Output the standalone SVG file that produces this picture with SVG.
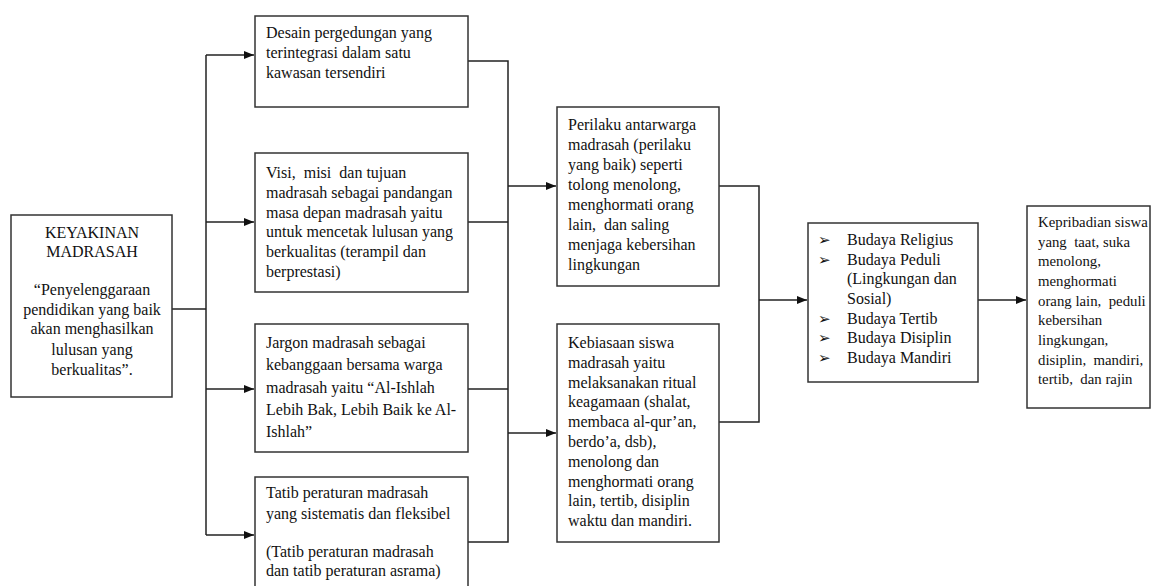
<svg xmlns="http://www.w3.org/2000/svg" width="1157" height="586" viewBox="0 0 1157 586">
<style>
.box{fill:#fff;stroke:#333;stroke-width:1.5}
.t{font-family:"Liberation Serif","Times New Roman",serif;font-size:16px;fill:#111;white-space:pre}
.s{font-size:14.8px}
.c{text-anchor:middle}
.bul{font-family:"DejaVu Sans",sans-serif;font-size:15px;fill:#111}
.ln{fill:none;stroke:#222;stroke-width:1.5}
</style>
<defs>
<marker id="ah" viewBox="0 0 10 10" refX="10" refY="5" markerWidth="10" markerHeight="10" markerUnits="userSpaceOnUse" orient="auto">
<path d="M0,1 L10,5 L0,9 Z" fill="#111"/>
</marker>
</defs>
<rect width="1157" height="586" fill="#fff"/>
<g id="connectors">
<path class="ln" d="M172,309 H206"/>
<path class="ln" d="M206,55 V535"/>
<path class="ln" d="M206,55 H254" marker-end="url(#ah)"/>
<path class="ln" d="M206,222 H254" marker-end="url(#ah)"/>
<path class="ln" d="M206,389 H254" marker-end="url(#ah)"/>
<path class="ln" d="M206,535 H254" marker-end="url(#ah)"/>
<path class="ln" d="M468,61 H508 V542 H468"/>
<path class="ln" d="M468,222 H508"/>
<path class="ln" d="M468,389 H508"/>
<path class="ln" d="M508,186 H556" marker-end="url(#ah)"/>
<path class="ln" d="M508,433 H556" marker-end="url(#ah)"/>
<path class="ln" d="M719,186 H759 V422 H719"/>
<path class="ln" d="M759,300 H807" marker-end="url(#ah)"/>
<path class="ln" d="M978,300 H1026" marker-end="url(#ah)"/>
</g>
<g id="keyakinan">
<rect class="box" x="11" y="215" width="161" height="182"/>
<text class="t c" x="92" y="238">KEYAKINAN</text>
<text class="t c" x="92" y="257">MADRASAH</text>
<text class="t c" x="92" y="295">“Penyelenggaraan</text>
<text class="t c" x="92" y="315">pendidikan yang baik</text>
<text class="t c" x="92" y="334">akan menghasilkan</text>
<text class="t c" x="92" y="355">lulusan yang</text>
<text class="t c" x="92" y="375">berkualitas”.</text>
</g>
<g id="desain">
<rect class="box" x="255" y="16" width="213" height="91"/>
<text class="t" x="266" y="38">Desain pergedungan yang</text>
<text class="t" x="266" y="58">terintegrasi dalam satu</text>
<text class="t" x="266" y="78">kawasan tersendiri</text>
</g>
<g id="visi">
<rect class="box" x="255" y="153" width="213" height="139"/>
<text class="t" x="266" y="178">Visi,  misi  dan tujuan</text>
<text class="t" x="266" y="198">madrasah sebagai pandangan</text>
<text class="t" x="266" y="218">masa depan madrasah yaitu</text>
<text class="t" x="266" y="237">untuk mencetak lulusan yang</text>
<text class="t" x="266" y="257">berkualitas (terampil dan</text>
<text class="t" x="266" y="277">berprestasi)</text>
</g>
<g id="jargon">
<rect class="box" x="255" y="324" width="213" height="128"/>
<text class="t" x="266" y="348">Jargon madrasah sebagai</text>
<text class="t" x="266" y="370">kebanggaan bersama warga</text>
<text class="t" x="266" y="393">madrasah yaitu “Al-Ishlah</text>
<text class="t" x="266" y="415">Lebih Bak, Lebih Baik ke Al-</text>
<text class="t" x="266" y="437">Ishlah”</text>
</g>
<g id="tatib">
<rect class="box" x="255" y="477" width="213" height="130"/>
<text class="t" x="266" y="498">Tatib peraturan madrasah</text>
<text class="t" x="266" y="519">yang sistematis dan fleksibel</text>
<text class="t" x="266" y="557">(Tatib peraturan madrasah</text>
<text class="t" x="266" y="576">dan tatib peraturan asrama)</text>
</g>
<g id="perilaku">
<rect class="box" x="557" y="107" width="162" height="179"/>
<text class="t" x="568" y="130">Perilaku antarwarga</text>
<text class="t" x="568" y="150">madrasah (perilaku</text>
<text class="t" x="568" y="170">yang baik) seperti</text>
<text class="t" x="568" y="190">tolong menolong,</text>
<text class="t" x="568" y="210">menghormati orang</text>
<text class="t" x="568" y="230">lain,  dan saling</text>
<text class="t" x="568" y="250">menjaga kebersihan</text>
<text class="t" x="568" y="270">lingkungan</text>
</g>
<g id="kebiasaan">
<rect class="box" x="557" y="324" width="162" height="218"/>
<text class="t" x="568" y="348">Kebiasaan siswa</text>
<text class="t" x="568" y="368">madrasah yaitu</text>
<text class="t" x="568" y="388">melaksanakan ritual</text>
<text class="t" x="568" y="407">keagamaan (shalat,</text>
<text class="t" x="568" y="427">membaca al-qur’an,</text>
<text class="t" x="568" y="447">berdo’a, dsb),</text>
<text class="t" x="568" y="467">menolong dan</text>
<text class="t" x="568" y="487">menghormati orang</text>
<text class="t" x="568" y="506">lain, tertib, disiplin</text>
<text class="t" x="568" y="526">waktu dan mandiri.</text>
</g>
<g id="budaya">
<rect class="box" x="808" y="223" width="170" height="159"/>
<text class="bul" x="818" y="245">➢</text>
<text class="t" x="847" y="245">Budaya Religius</text>
<text class="bul" x="818" y="265">➢</text>
<text class="t" x="847" y="265">Budaya Peduli</text>
<text class="t" x="847" y="284">(Lingkungan dan</text>
<text class="t" x="847" y="304">Sosial)</text>
<text class="bul" x="818" y="324">➢</text>
<text class="t" x="847" y="324">Budaya Tertib</text>
<text class="bul" x="818" y="343">➢</text>
<text class="t" x="847" y="343">Budaya Disiplin</text>
<text class="bul" x="818" y="363">➢</text>
<text class="t" x="847" y="363">Budaya Mandiri</text>
</g>
<g id="kepribadian">
<rect class="box" x="1027" y="206" width="123" height="202"/>
<text class="t s" x="1038" y="227">Kepribadian siswa</text>
<text class="t s" x="1038" y="247">yang  taat, suka</text>
<text class="t s" x="1038" y="266">menolong,</text>
<text class="t s" x="1038" y="286">menghormati</text>
<text class="t s" x="1038" y="306">orang lain,  peduli</text>
<text class="t s" x="1038" y="325">kebersihan</text>
<text class="t s" x="1038" y="345">lingkungan,</text>
<text class="t s" x="1038" y="365">disiplin,  mandiri,</text>
<text class="t s" x="1038" y="384">tertib,  dan rajin</text>
</g>
</svg>
